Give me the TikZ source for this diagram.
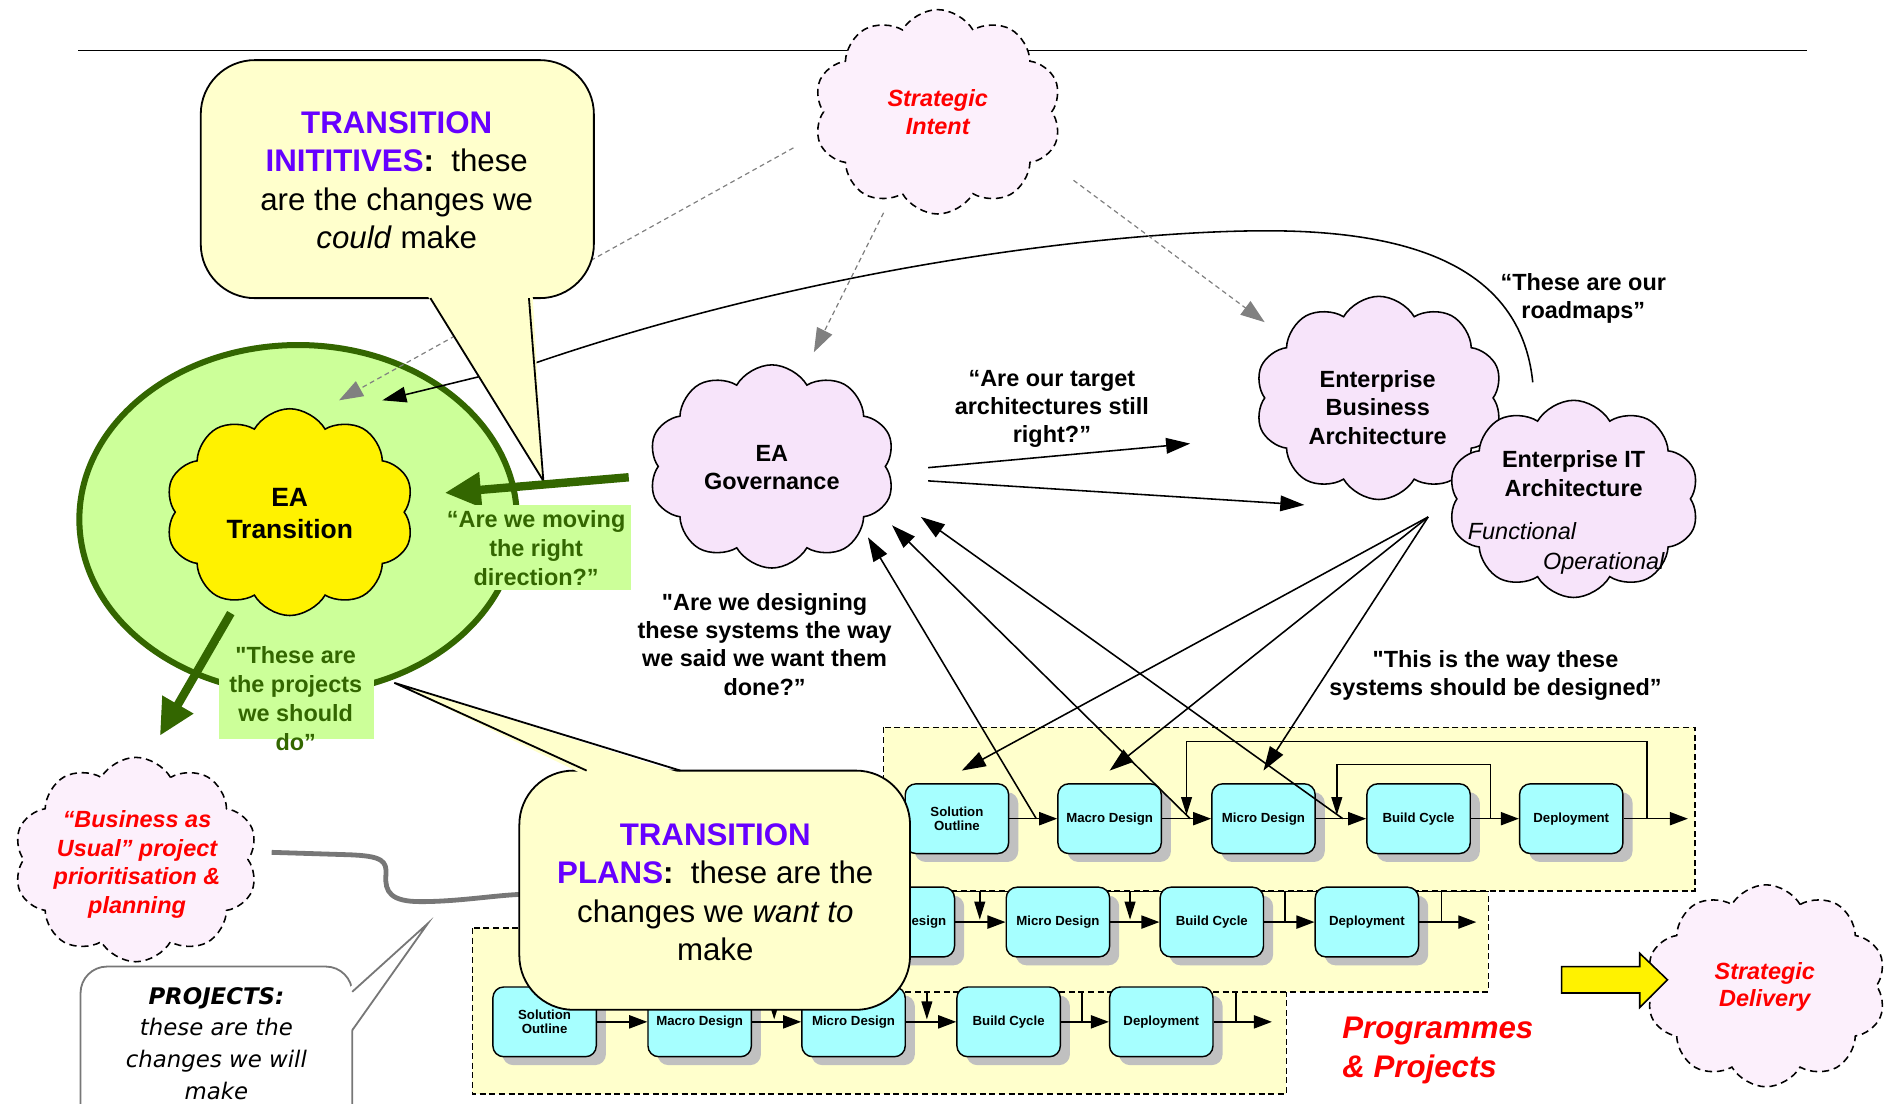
\documentclass[tikz,border=0pt]{standalone}
\usepackage{fontspec}
\setmainfont{Liberation Sans}
\newfontfamily\dejavu{DejaVu Sans}
\usetikzlibrary{shapes.symbols,shapes.geometric,arrows.meta,shadows}
\definecolor{tpurple}{HTML}{6600FF}
\definecolor{tred}{HTML}{FF0000}
\definecolor{dgreen}{HTML}{336600}
\definecolor{lgreen}{HTML}{CCFF99}
\definecolor{cream}{HTML}{FFFFCC}
\definecolor{lilac}{HTML}{F7E4FA}
\definecolor{palelilac}{HTML}{FCF0FC}
\definecolor{boxcyan}{HTML}{A6FFFF}
\definecolor{shade}{HTML}{C0C0C0}
\definecolor{lgray}{HTML}{808080}
\definecolor{wire}{HTML}{777777}
\newcommand{\fsz}[2]{\fontsize{#1}{#2}\selectfont}
\newcommand{\sq}{\textquotedbl}

\begin{document}
\begin{tikzpicture}[x=1pt, y=-1pt,
  puff/.style={cloud, cloud puffs=10, cloud puff arc=120, cloud ignores aspect,
    inner sep=0pt, draw=black, line width=1.3pt},
  solidcloud/.style={puff, fill=lilac},
  dashcloud/.style={puff, fill=palelilac, dash pattern=on 6pt off 4pt},
  saying/.style={align=center, font=\fsz{19.5}{23.5}\bfseries},
  bigtip/.style={line width=1.3pt, -{Triangle[length=20pt,width=13pt]}},
  faint/.style={draw=lgray, line width=1pt, dash pattern=on 4pt off 3pt,
    -{Triangle[length=20pt,width=14pt]}},
  greenarrow/.style={draw=dgreen, line width=7pt, -{Triangle[length=30pt,width=28pt]}},
  flow/.style={line width=1.2pt, -{Triangle[length=15pt,width=11pt]}},
  drop/.style={line width=1.2pt, -{Triangle[length=15pt,width=9pt]}},
  tick/.style={line width=1.2pt},
  lane/.style={draw, fill=cream, line width=1.2pt, dash pattern=on 5pt off 3pt},
  stage/.style={draw, line width=1.2pt, fill=boxcyan, rounded corners=9pt,
    minimum width=86pt, minimum height=58pt, inner sep=1pt, align=center,
    font=\fsz{11}{12}\bfseries,
    drop shadow={shadow xshift=8pt, shadow yshift=-7pt, fill=shade, opacity=1}},
  greenbox/.style={fill=lgreen, inner sep=0pt},
  greentext/.style={saying, text=dgreen, font=\fsz{19.5}{24}\bfseries},
  speech/.style={align=center, font=\fsz{26}{32}}
]
\useasboundingbox (0,0) rectangle (1568,918);

% heading rule
\coordinate (ruleL) at (65,42);
\coordinate (ruleR) at (1503,42);
\draw[line width=1.5pt] (ruleL) -- (ruleR);

% strategic intent
\node[dashcloud, minimum width=206pt, minimum height=170pt] (intent) at (780,93) {};
\node[font=\fsz{19.5}{23}\bfseries\itshape, text=tred, align=center] (intentTxt) at (780,93) {Strategic\\Intent};

% EA transition zone
\node[ellipse, draw=dgreen, fill=lgreen, line width=5pt, minimum width=364pt,
  minimum height=290pt, inner sep=0pt] (zone) at (248,432) {};
\node[puff, fill=yellow, minimum width=207pt, minimum height=172pt] (trans) at (241,426) {};
\node[saying, font=\fsz{22}{27}\bfseries] (transTxt) at (241,427) {EA\\Transition};

% intent feeding the transition
\coordinate (si1) at (660,123);
\coordinate (si1end) at (282,333);
\draw[faint] (si1) -- (si1end);

% roadmap curve back to the transition
\coordinate (mapStart) at (1275,318);
\coordinate (mapTop) at (1060,192);
\coordinate (mapBend) at (445,302);
\coordinate (mapEnd) at (318,333);
\draw[bigtip] (mapStart) .. controls (1265,220) and (1170,193) .. (mapTop)
  .. controls (950,191) and (700,215) .. (mapBend) -- (mapEnd);

% callout: transition initiatives
\filldraw[fill=cream, line width=1.5pt, rounded corners=45pt] (167,50) rectangle (494,248);
\fill[cream] (355,245) -- (452,400) -- (443,245) -- cycle;
\draw[line width=1.5pt] (358,248) -- (452,400) -- (440,248);
\node[speech] (initTxt) at (330,150)
  {\textcolor{tpurple}{\bfseries TRANSITION}\\\textcolor{tpurple}{\bfseries INITITIVES}{\bfseries :}\ \ these\\are the changes we\\\textit{could} make};

% intent feeding governance and architecture
\coordinate (si2) at (735,177);
\coordinate (si2end) at (677,293);
\coordinate (si3) at (893,150);
\coordinate (si3end) at (1052,268);
\draw[faint] (si2) -- (si2end);
\draw[faint] (si3) -- (si3end);

% governance and architecture clouds
\node[solidcloud, minimum width=205pt, minimum height=169pt] (gov) at (642,388) {};
\node[saying] (govTxt) at (642,389) {EA\\Governance};
\node[solidcloud, minimum width=206pt, minimum height=169pt] (eba) at (1147,331) {};
\node[saying] (ebaTxt) at (1146,339) {Enterprise\\Business\\Architecture};
\node[solidcloud, minimum width=209pt, minimum height=164pt] (eit) at (1309,415) {};
\node[saying] (eitTxt) at (1309,394) {Enterprise IT\\Architecture};
\node[font=\fsz{19.5}{23.5}\itshape] (funcTxt) at (1266,442) {Functional};
\node[font=\fsz{19.5}{23.5}\itshape] (operTxt) at (1334,469) {Operational};

% green feedback arrows
\coordinate (govL) at (523,397);
\coordinate (transR) at (370,410);
\draw[greenarrow] (govL) -- (transR);
\coordinate (transB) at (192,510);
\coordinate (bauT) at (133,612);
\draw[greenarrow] (transB) -- (bauT);
\node[greenbox, minimum width=160pt, minimum height=71pt] (moveBox) at (445,455.5) {};
\node[greentext] (moveTxt) at (446,456) {“Are we moving\\the right\\direction?”};
\node[greenbox, minimum width=129pt, minimum height=82pt] (projBox) at (246.5,574) {};
\node[greentext] (projTxt) at (246,581) {\sq These are\\the projects\\we should\\do”};

% governance to architecture
\coordinate (g1) at (772,389);
\coordinate (g1end) at (990,369);
\coordinate (g2) at (772,400);
\coordinate (g2end) at (1085,420);
\draw[bigtip] (g1) -- (g1end);
\draw[bigtip] (g2) -- (g2end);
\node[saying] (targetTxt) at (875,340) {“Are our target\\architectures still\\right?”};
\node[saying] (roadTxt) at (1317,248) {“These are our\\roadmaps”};
\node[saying] (designTxt) at (636,536) {\sq Are we designing\\these systems the way\\we said we want them\\done?”};
\node[saying] (wayTxt) at (1244,562) {\sq This is the way these\\systems should be designed”};

% programme lanes
\draw[lane] (393,772) rectangle (1070,910);
\draw[lane] (445,741) rectangle (1238,825);
\draw[lane] (735,605) rectangle (1410,741);

% lane 1
\node[stage] (r1a) at (796,681) {Solution\\Outline};
\node[stage] (r1b) at (923,681) {Macro Design};
\node[stage] (r1c) at (1051,681) {Micro Design};
\node[stage] (r1d) at (1180,681) {Build Cycle};
\node[stage] (r1e) at (1307,681) {Deployment};
\coordinate (r1out) at (1404,681);
\draw[flow] (r1a) -- (r1b);
\draw[flow] (r1b) -- (r1c);
\draw[flow] (r1c) -- (r1d);
\draw[flow] (r1d) -- (r1e);
\draw[flow] (r1e) -- (r1out);
\coordinate (loopA) at (1370,681);
\coordinate (loopAend) at (987,678);
\coordinate (loopB) at (1240,681);
\coordinate (loopBend) at (1112,678);
\draw[drop] (loopA) -- ++(0,-64) -| (loopAend);
\draw[drop] (loopB) -- ++(0,-45) -| (loopBend);

% lane 2 (its first stage lies under the plans callout)
\node[stage] (r2b) at (751,767) {Macro Design};
\node[stage] (r2c) at (880,767) {Micro Design};
\node[stage] (r2d) at (1008,767) {Build Cycle};
\node[stage] (r2e) at (1137,767) {Deployment};
\coordinate (r2out) at (1228,767);
\draw[flow] (r2b) -- (r2c);
\draw[flow] (r2c) -- (r2d);
\draw[flow] (r2d) -- (r2e);
\draw[flow] (r2e) -- (r2out);
\coordinate (d2a) at (815,741); \coordinate (d2aend) at (815,765);
\coordinate (d2b) at (940,741); \coordinate (d2bend) at (940,765);
\coordinate (d2c) at (1069,741); \coordinate (d2cend) at (1069,767);
\coordinate (d2d) at (1199,741); \coordinate (d2dend) at (1199,767);
\draw[drop] (d2a) -- (d2aend);
\draw[drop] (d2b) -- (d2bend);
\draw[tick] (d2c) -- (d2cend);
\draw[tick] (d2d) -- (d2dend);

% lane 3
\node[stage] (r3a) at (453,850) {Solution\\Outline};
\node[stage] (r3b) at (582,850) {Macro Design};
\node[stage] (r3c) at (710,850) {Micro Design};
\node[stage] (r3d) at (839,850) {Build Cycle};
\node[stage] (r3e) at (966,850) {Deployment};
\coordinate (r3out) at (1058,850);
\draw[flow] (r3a) -- (r3b);
\draw[flow] (r3b) -- (r3c);
\draw[flow] (r3c) -- (r3d);
\draw[flow] (r3d) -- (r3e);
\draw[flow] (r3e) -- (r3out);
\coordinate (d3a) at (644,825); \coordinate (d3aend) at (644,848);
\coordinate (d3b) at (771,825); \coordinate (d3bend) at (771,848);
\coordinate (d3c) at (900,825); \coordinate (d3cend) at (900,850);
\coordinate (d3d) at (1028,825); \coordinate (d3dend) at (1028,850);
\draw[drop] (d3a) -- (d3aend);
\draw[drop] (d3b) -- (d3bend);
\draw[tick] (d3c) -- (d3cend);
\draw[tick] (d3d) -- (d3dend);

% architecture guiding the designs
\coordinate (fan) at (1188,430);
\coordinate (fanA) at (800,641);
\coordinate (fanB) at (923,641);
\coordinate (fanC) at (1051,641);
\draw[bigtip] (fan) -- (fanA);
\draw[bigtip] (fan) -- (fanB);
\draw[bigtip] (fan) -- (fanC);

% designs reporting back to governance
\coordinate (up1) at (862,681);
\coordinate (up1end) at (722,447);
\coordinate (up2) at (990,681);
\coordinate (up2end) at (742,437);
\coordinate (up3) at (1117,681);
\coordinate (up3end) at (766,430);
\draw[bigtip] (up1) -- (up1end);
\draw[bigtip] (up2) -- (up2end);
\draw[bigtip] (up3) -- (up3end);

% business as usual
\node[dashcloud, minimum width=203pt, minimum height=170pt] (bau) at (113,715) {};
\node[font=\fsz{19.5}{24}\bfseries\itshape, text=tred, align=center] (bauTxt) at (114,719)
  {“Business as\\Usual” project\\prioritisation \&\\planning};
\coordinate (bauR) at (226,709);
\coordinate (plansL) at (432,744);
\draw[wire, line width=4pt] (bauR) -- (290,711) .. controls (318,712) and (322,716) .. (321,728)
  .. controls (320,742) and (325,750) .. (350,750) .. controls (380,750) and (410,745) .. (plansL);

% callout: transition plans
\filldraw[fill=cream, line width=1.5pt, rounded corners=45pt] (432,641) rectangle (757,840);
\fill[cream] (485,644) -- (328,568) -- (569,644) -- cycle;
\draw[line width=1.5pt] (488,641) -- (328,568) -- (566,641);
\node[speech] (plansTxt) at (595,742)
  {\textcolor{tpurple}{\bfseries TRANSITION}\\\textcolor{tpurple}{\bfseries PLANS}{\bfseries :}\ \ these are the\\changes we \textit{want to}\\make};

% callout: projects
\filldraw[fill=white, draw=wire, line width=1.5pt, rounded corners=22pt] (67,804) rectangle (293,960);
\fill[white] (290,822) -- (356,768) -- (290,860) -- cycle;
\draw[wire, line width=1.5pt] (293,825) -- (356,768) -- (293,857);
\node[align=center, font=\dejavu\fsz{19}{26.5}\itshape] (projectsTxt) at (180,868)
  {{\bfseries PROJECTS:}\\these are the\\changes we will\\make};

% programmes label
\node[anchor=west, align=left, font=\fsz{26}{32}\bfseries\itshape, text=tred] (progTxt) at (1113,874)
  {Programmes\\\& Projects};

% strategic delivery
\node[dashcloud, minimum width=200pt, minimum height=168pt] (delivery) at (1469,820) {};
\node[font=\fsz{19.5}{23}\bfseries\itshape, text=tred, align=center] (deliveryTxt) at (1468,821) {Strategic\\Delivery};
\draw[fill=yellow, line width=1.3pt] (1299,804) -- (1364,804) -- (1364,793) -- (1387,815)
  -- (1364,838) -- (1364,826) -- (1299,826) -- cycle;
\end{tikzpicture}
\end{document}
